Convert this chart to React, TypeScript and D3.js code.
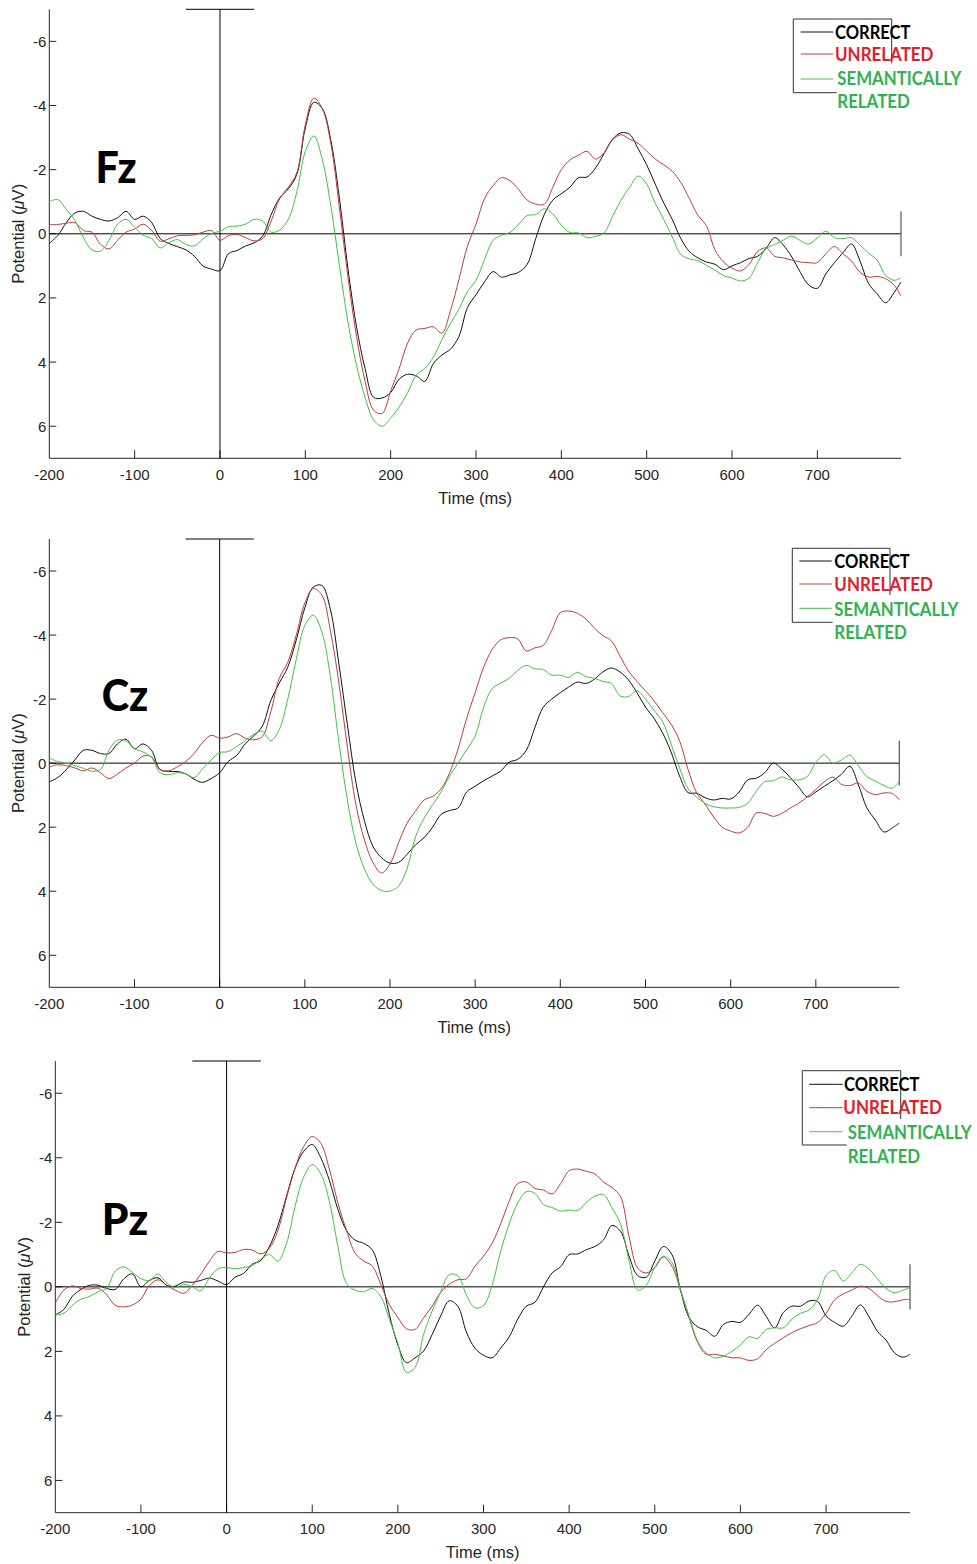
import React from "react";
import * as d3 from "d3";

// ---------- data ----------
const TIMES: number[] = [...d3.range(-200, 800, 10), 798];
const X_TICKS = [-200, -100, 0, 100, 200, 300, 400, 500, 600, 700];
const Y_TICKS = [-6, -4, -2, 0, 2, 4, 6];
const SERIES_NAMES = ["CORRECT", "UNRELATED", "SEMANTICALLY RELATED"];
const SERIES_COLORS = ["#111111", "#c43a3a", "#3ec63e"];
const LEGEND_TEXT_COLORS = ["#000000", "#e0202a", "#2fb24f"];
const ELECTRODES = ["Fz", "Cz", "Pz"];

const FZ_CORRECT = [
  0.3, 0.05, -0.35, -0.65, -0.7, -0.55, -0.45, -0.4, -0.5, -0.7,
  -0.45, -0.55, -0.35, 0.15, 0.3, 0.4, 0.5, 0.7, 1.0, 1.1,
  1.15, 0.62, 0.52, 0.38, 0.28, 0.07, -0.6, -1.12, -1.4, -1.85,
  -3.3, -4.1, -3.9, -2.9, -1.1, 1.1, 2.9, 4.2, 5.1, 5.12,
  4.95, 4.53, 4.38, 4.43, 4.6, 4.05, 3.78, 3.6, 3.2, 2.3,
  1.9, 1.5, 1.18, 1.35, 1.28, 1.2, 0.95, 0.15, -0.6, -1.05,
  -1.25, -1.45, -1.75, -1.77, -2.05, -2.5, -2.95, -3.15, -3.1, -2.65,
  -2.15, -1.55, -0.96, -0.45, 0.15, 0.55, 0.75, 0.88, 0.95, 1.12,
  1.0, 0.9, 0.77, 0.7, 0.45, 0.12, 0.35, 0.72, 1.2, 1.6,
  1.7, 1.25, 0.9, 0.59, 0.32, 0.85, 1.55, 1.87, 2.15, 1.83,
  1.5,
];
const FZ_UNRELATED = [
  -0.29, -0.29, -0.33, -0.35, -0.1, -0.05, 0.33, 0.47, 0.2, -0.05,
  -0.15, -0.3, -0.1, 0.23, 0.16, 0.06, 0.05, 0.03, -0.05, -0.1,
  0.2, 0.06, 0.02, 0.12, 0.22, 0.15, -0.4, -1.1, -1.45, -1.9,
  -3.4, -4.23, -3.9, -2.8, -0.8, 1.35, 3.2, 4.6, 5.5, 5.6,
  4.9, 4.2, 3.4, 3.0, 2.95, 2.9, 3.1, 2.4, 1.42, 0.38,
  -0.3, -1.1, -1.5, -1.75, -1.65, -1.38, -1.05, -0.93, -0.92, -1.45,
  -2.0, -2.3, -2.45, -2.57, -2.33, -2.52, -2.93, -3.09, -2.95, -2.82,
  -2.58, -2.33, -2.15, -1.95, -1.6, -1.1, -0.58, -0.25, 0.5, 0.88,
  1.07, 1.16, 0.95, 0.55, 0.44, 0.7, 0.75, 0.82, 0.88, 0.9,
  0.9, 0.62, 0.4, 0.62, 0.85, 1.2, 1.35, 1.33, 1.4, 1.6,
  1.94,
];
const FZ_SEMANTIC = [
  -1.0, -1.07, -0.76, -0.42, 0.12, 0.5, 0.54, 0.2, -0.3, -0.45,
  -0.2, 0.05, 0.15, 0.44, 0.28, 0.18, 0.33, 0.38, 0.16, -0.01,
  -0.08, -0.22, -0.24, -0.3, -0.45, -0.4, -0.05, -0.12, -0.45, -1.3,
  -2.57, -3.05, -2.3, -0.85, 1.0, 2.75, 4.1, 5.1, 5.8, 6.0,
  5.75, 5.4, 4.95, 4.4, 4.2, 3.85, 3.3, 2.8, 2.35, 1.8,
  1.45, 0.8, 0.2, 0.05, -0.05, -0.3, -0.57, -0.6, -0.78, -0.62,
  -0.27, -0.04, -0.03, 0.12, 0.08, -0.03, -0.55, -1.05, -1.45, -1.8,
  -1.55, -0.95, -0.45, 0.1, 0.64, 0.78, 0.84, 0.98, 1.13, 1.3,
  1.38, 1.47, 1.38, 0.9, 0.47, 0.33, 0.2, 0.07, 0.21, 0.32,
  0.12, -0.08, 0.12, 0.15, 0.12, 0.35, 0.6, 0.82, 1.3, 1.45,
  1.37,
];

const CZ_CORRECT = [
  0.58, 0.45, 0.2, -0.1, -0.4, -0.4, -0.3, -0.3, -0.6, -0.75,
  -0.45, -0.6, -0.4, 0.2, 0.26, 0.26, 0.33, 0.5, 0.6, 0.48,
  0.3, -0.05, -0.24, -0.6, -0.85, -1.15, -1.95, -2.5, -3.0, -3.85,
  -4.85, -5.5, -5.55, -4.8, -3.1, -1.2, 0.6, 1.8, 2.6, 2.95,
  3.12, 3.1, 2.85, 2.55, 2.33, 2.0, 1.6, 1.48, 1.4, 0.9,
  0.72, 0.55, 0.4, 0.25, -0.03, -0.12, -0.4, -1.1, -1.75, -2.0,
  -2.2, -2.38, -2.53, -2.49, -2.62, -2.85, -2.97, -2.85, -2.6, -2.2,
  -1.75, -1.4, -0.95, -0.35, 0.4, 0.92, 0.94, 1.08, 1.15, 1.1,
  1.12, 0.9, 0.52, 0.47, 0.3, 0.0, 0.18, 0.45, 0.75, 1.05,
  0.9, 0.72, 0.55, 0.35, 0.1, 0.68, 1.4, 1.78, 2.15, 2.02,
  1.87,
];
const CZ_UNRELATED = [
  0.12, 0.05, 0.08, 0.15, 0.24, 0.15, 0.3, 0.48, 0.34, 0.15,
  0.0, -0.22, -0.2, 0.2, 0.24, 0.12, -0.05, -0.3, -0.65, -0.87,
  -0.78, -0.82, -0.92, -0.78, -0.73, -0.83, -1.6, -2.65, -3.15, -4.0,
  -5.0, -5.45, -5.25, -4.15, -2.5, -0.5, 1.3, 2.4, 3.1, 3.43,
  3.15, 2.49, 1.88, 1.5, 1.15, 1.04, 0.8, 0.3, -0.45, -1.4,
  -2.2, -3.0, -3.55, -3.85, -3.92, -3.88, -3.5, -3.6, -3.68, -4.15,
  -4.7, -4.75, -4.68, -4.5, -4.22, -3.98, -3.82, -3.35, -2.88, -2.55,
  -2.26, -1.95, -1.58, -1.22, -0.7, 0.2, 0.92, 1.28, 1.68, 2.0,
  2.12, 2.18, 2.0, 1.56, 1.57, 1.66, 1.57, 1.4, 1.25, 1.05,
  0.82, 0.58, 0.44, 0.66, 0.7, 0.62, 0.88, 0.98, 0.93, 0.95,
  1.14,
];
const CZ_SEMANTIC = [
  -0.16, -0.05, 0.0, 0.08, 0.16, 0.25, 0.2, -0.4, -0.72, -0.7,
  -0.45, -0.35, -0.18, 0.3, 0.36, 0.3, 0.33, 0.45, 0.18, -0.1,
  -0.33, -0.36, -0.52, -0.7, -0.9, -1.0, -0.7, -1.05, -2.0, -3.25,
  -4.3, -4.62, -4.1, -2.7, -0.65, 1.15, 2.5, 3.3, 3.78, 3.98,
  4.0, 3.84, 3.3, 2.3, 1.72, 1.3, 0.9, 0.4, 0.0, -0.42,
  -0.85, -1.75, -2.33, -2.5, -2.65, -2.9, -3.05, -2.95, -2.92, -2.75,
  -2.75, -2.68, -2.84, -2.7, -2.65, -2.55, -2.49, -2.1, -2.08, -2.26,
  -2.0, -1.65, -1.3, -0.6, 0.15, 0.8, 1.06, 1.26, 1.36, 1.4,
  1.4, 1.38, 1.25, 0.88, 0.58, 0.55, 0.43, 0.52, 0.52, 0.42,
  -0.02, -0.26, 0.0, -0.1, -0.25, 0.08, 0.42, 0.56, 0.7, 0.78,
  0.57,
];

const PZ_CORRECT = [
  0.87, 0.7, 0.29, 0.08, -0.05, -0.05, 0.05, 0.08, -0.25, -0.4,
  0.0, -0.2, -0.28, -0.05, -0.02, -0.15, -0.14, -0.2, -0.27, -0.18,
  -0.07, -0.3, -0.42, -0.7, -0.82, -1.25, -1.9, -2.81, -3.68, -4.2,
  -4.41, -4.0, -3.3, -2.4, -1.75, -1.45, -1.35, -1.15, -0.35, 0.85,
  1.8, 2.35, 2.2, 1.99, 1.48, 0.9, 0.43, 0.6, 1.4, 1.9,
  2.12, 2.2, 1.9, 1.55, 1.0, 0.6, 0.48, 0.0, -0.43, -0.62,
  -1.0, -1.02, -1.15, -1.25, -1.45, -1.9, -1.72, -0.95, -0.35, -0.3,
  -0.8, -1.25, -1.0, 0.1, 0.95, 1.24, 1.35, 1.53, 1.17, 1.07,
  1.1, 0.85, 0.57, 0.91, 1.27, 0.8, 0.6, 0.6, 0.44, 0.45,
  0.9, 1.1, 1.22, 0.91, 0.56, 0.92, 1.38, 1.65, 2.05, 2.18,
  2.09,
];
const PZ_UNRELATED = [
  0.5, 0.1, -0.03, 0.05, 0.07, 0.04, 0.25, 0.57, 0.62, 0.56,
  0.38, -0.05, -0.22, -0.05, 0.1, 0.2, -0.05, -0.4, -0.8, -1.1,
  -1.05, -1.07, -1.16, -1.14, -1.02, -1.2, -1.75, -2.76, -3.68, -4.35,
  -4.66, -4.45, -3.65, -2.6, -1.75, -1.05, -0.8, -0.65, -0.08, 0.55,
  0.95, 1.3, 1.32, 0.96, 0.6, 0.17, -0.08, -0.22, -0.25, -0.64,
  -0.95, -1.35, -1.95, -2.65, -3.2, -3.25, -3.05, -3.0, -2.88, -3.2,
  -3.6, -3.65, -3.58, -3.5, -3.25, -3.08, -2.8, -1.55, -0.58, -0.43,
  -0.6, -0.92, -0.64, 0.1, 0.95, 1.72, 2.09, 2.09, 2.14, 2.2,
  2.2, 2.28, 2.23, 1.95, 1.75, 1.58, 1.42, 1.3, 1.2, 1.11,
  0.82, 0.4, 0.22, 0.1, -0.02, 0.05, 0.27, 0.45, 0.46, 0.4,
  0.39,
];
const PZ_SEMANTIC = [
  0.87, 0.82, 0.57, 0.38, 0.3, 0.15, 0.05, -0.49, -0.62, -0.45,
  -0.25, -0.2, -0.4, -0.12, 0.02, -0.08, 0.0, 0.12, -0.28, -0.56,
  -0.6, -0.56, -0.6, -0.66, -0.86, -1.0, -0.8, -1.35, -2.5, -3.4,
  -3.79, -3.5, -2.65, -1.25, -0.1, 0.1, 0.15, 0.05, 0.3, 1.0,
  1.75, 2.65, 2.5, 1.48, 0.75, 0.15, -0.38, -0.35, 0.25, 0.65,
  0.58, -0.05, -1.1, -1.95, -2.6, -2.95, -2.9, -2.55, -2.46, -2.35,
  -2.38, -2.37, -2.62, -2.81, -2.86, -2.45, -1.95, -0.8, 0.1, -0.05,
  -0.6, -0.95, -0.75, 0.1, 0.9, 1.68, 2.05, 2.2, 2.15, 2.0,
  1.8, 1.55, 1.6, 1.32, 1.27, 1.27, 1.0, 0.82, 0.72, 0.4,
  -0.35, -0.51, -0.18, -0.43, -0.7, -0.55, -0.25, 0.05, 0.18, 0.1,
  0.03,
];

const PANEL_DATA = [
  [FZ_CORRECT, FZ_UNRELATED, FZ_SEMANTIC],
  [CZ_CORRECT, CZ_UNRELATED, CZ_SEMANTIC],
  [PZ_CORRECT, PZ_UNRELATED, PZ_SEMANTIC],
];

// ---------- layout ----------
type Layout = {
  x0: number; x1: number; yTop: number; yBot: number;
  nameX: number; nameBase: number; nameW: number;
  ylabX: number;
  box: { x: number; y: number; w: number; h: number; bottomEnd: number; rightEnd: number };
  lineX: [number, number]; lineY: number[];
  textX: number[]; textBase: number[];
};

const LAYOUTS: Layout[] = [
  {
    x0: 49.3, x1: 901, yTop: 9.3, yBot: 458.3,
    nameX: 95.5, nameBase: 183.3, nameW: 41,
    ylabX: 18,
    box: { x: 793.3, y: 19, w: 98.4, h: 73.7, bottomEnd: 836.7, rightEnd: 63.3 },
    lineX: [800.7, 833.3], lineY: [32, 54, 79],
    textX: [835, 835, 837.3, 837.3], textBase: [39, 60.7, 85, 108.3],
  },
  {
    x0: 49.3, x1: 899.3, yTop: 539, yBot: 987.3,
    nameX: 101.7, nameBase: 711, nameW: 46.5,
    ylabX: 18,
    box: { x: 792.3, y: 548.3, w: 97.7, h: 74, bottomEnd: 832.7, rightEnd: 595 },
    lineX: [799.3, 831.7], lineY: [561, 584, 608.3],
    textX: [834.3, 834.3, 834.3, 834.3], textBase: [567.7, 591, 615.7, 639],
  },
  {
    x0: 55.3, x1: 910, yTop: 1061, yBot: 1512.7,
    nameX: 101.7, nameBase: 1235, nameW: 46.5,
    ylabX: 24,
    box: { x: 802.3, y: 1070.7, w: 98.4, h: 74.3, bottomEnd: 846.7, rightEnd: 1119 },
    lineX: [809.3, 842.7], lineY: [1084.3, 1107.7, 1131.7],
    textX: [844, 843.3, 847.7, 847.7], textBase: [1091, 1114, 1139.3, 1162.7],
  },
];

const LEGEND_WIDTHS = [75.5, 98.5, 124, 72.5];
const AXIS_COLOR = "#262626";
const TICK_FONT = "'Liberation Sans', Arial, Helvetica, sans-serif";
const LEGEND_FONT = "Lato, 'Open Sans', sans-serif";

function Panel({ idx }: { idx: number }) {
  const L = LAYOUTS[idx];
  const data = PANEL_DATA[idx];
  const x = d3.scaleLinear().domain([-200, 798]).range([L.x0, L.x1]);
  const y = d3.scaleLinear().domain([-7, 7]).range([L.yTop, L.yBot]);
  const line = d3
    .line<number>()
    .x((_, i) => x(TIMES[i]))
    .y((d) => y(d))
    .curve(d3.curveCatmullRom.alpha(0.5));

  const legendLabels = ["CORRECT", "UNRELATED", "SEMANTICALLY", "RELATED"];
  const legendColors = [LEGEND_TEXT_COLORS[0], LEGEND_TEXT_COLORS[1], LEGEND_TEXT_COLORS[2], LEGEND_TEXT_COLORS[2]];
  const midY = (L.yTop + L.yBot) / 2;

  return (
    <g>
      {/* axes */}
      <line x1={L.x0} x2={L.x0} y1={L.yTop} y2={L.yBot} stroke={AXIS_COLOR} strokeWidth={1} />
      <line x1={L.x0} x2={L.x1} y1={L.yBot} y2={L.yBot} stroke={AXIS_COLOR} strokeWidth={1} />
      {Y_TICKS.map((t) => (
        <g key={"yt" + t}>
          <line x1={L.x0} x2={L.x0 + 7} y1={y(t)} y2={y(t)} stroke={AXIS_COLOR} strokeWidth={1} />
          <text x={L.x0 - 3} y={y(t)} textAnchor="end" dominantBaseline="central"
            fontFamily={TICK_FONT} fontSize={15} fill={AXIS_COLOR}>{t}</text>
        </g>
      ))}
      {X_TICKS.map((t) => (
        <g key={"xt" + t}>
          {t > -200 && (
            <line x1={x(t)} x2={x(t)} y1={L.yBot} y2={L.yBot - 8} stroke={AXIS_COLOR} strokeWidth={1} />
          )}
          <text x={x(t)} y={L.yBot + 16} textAnchor="middle" dominantBaseline="central"
            fontFamily={TICK_FONT} fontSize={15} fill={AXIS_COLOR}>{t}</text>
        </g>
      ))}
      <text x={(L.x0 + L.x1) / 2} y={L.yBot + 39.5} textAnchor="middle" dominantBaseline="central"
        fontFamily={TICK_FONT} fontSize={16.5} fill={AXIS_COLOR}>Time (ms)</text>
      <text transform={`translate(${L.ylabX},${midY}) rotate(-90)`} textAnchor="middle" dominantBaseline="central"
        fontFamily={TICK_FONT} fontSize={16.5} fill={AXIS_COLOR}>
        Potential (<tspan fontStyle="italic">μ</tspan>V)
      </text>

      {/* ERP reference lines */}
      <line x1={x(0)} x2={x(0)} y1={y(-7)} y2={y(7)} stroke="#000" strokeWidth={1} />
      <line x1={x(-40)} x2={x(40)} y1={y(-7)} y2={y(-7)} stroke="#000" strokeWidth={1} />
      <line x1={x(-200)} x2={x(798)} y1={y(0)} y2={y(0)} stroke="#000" strokeWidth={1} />
      <line x1={x(798)} x2={x(798)} y1={y(-0.7)} y2={y(0.7)} stroke="#555" strokeWidth={1.2} />

      {/* series */}
      {data.map((s, i) => (
        <path key={"s" + i} d={line(s) || ""} fill="none" stroke={SERIES_COLORS[i]} strokeWidth={1} />
      ))}

      {/* electrode name */}
      <text x={L.nameX} y={L.nameBase} fontFamily={LEGEND_FONT} fontWeight={900} fontSize={44}
        textLength={L.nameW} lengthAdjust="spacingAndGlyphs" fill="#000">{ELECTRODES[idx]}</text>

      {/* legend */}
      <g>
        <line x1={L.box.x} x2={L.box.x + L.box.w} y1={L.box.y} y2={L.box.y} stroke="#333" strokeWidth={1} />
        <line x1={L.box.x} x2={L.box.x} y1={L.box.y} y2={L.box.y + L.box.h} stroke="#333" strokeWidth={1} />
        <line x1={L.box.x} x2={L.box.bottomEnd} y1={L.box.y + L.box.h} y2={L.box.y + L.box.h} stroke="#333" strokeWidth={1} />
        <line x1={L.box.x + L.box.w} x2={L.box.x + L.box.w} y1={L.box.y} y2={L.box.rightEnd} stroke="#333" strokeWidth={1} />
        {SERIES_NAMES.map((n, i) => (
          <line key={"ll" + i} x1={L.lineX[0]} x2={L.lineX[1]} y1={L.lineY[i]} y2={L.lineY[i]}
            stroke={SERIES_COLORS[i]} strokeWidth={1} />
        ))}
        {legendLabels.map((lab, i) => (
          <text key={"lt" + i} x={L.textX[i]} y={L.textBase[i]} fontFamily={LEGEND_FONT} fontWeight={700}
            fontSize={18.5} fill={legendColors[i]} textLength={LEGEND_WIDTHS[i]} lengthAdjust="spacingAndGlyphs">
            {lab}
          </text>
        ))}
      </g>
    </g>
  );
}

export default function App() {
  return (
    <svg width={977} height={1564} viewBox="0 0 977 1564"
      style={{ position: "absolute", left: 0, top: 0, background: "#fff", display: "block" }}>
      <rect x={0} y={0} width={977} height={1564} fill="#fff" />
      {[0, 1, 2].map((i) => (
        <Panel key={i} idx={i} />
      ))}
    </svg>
  );
}
